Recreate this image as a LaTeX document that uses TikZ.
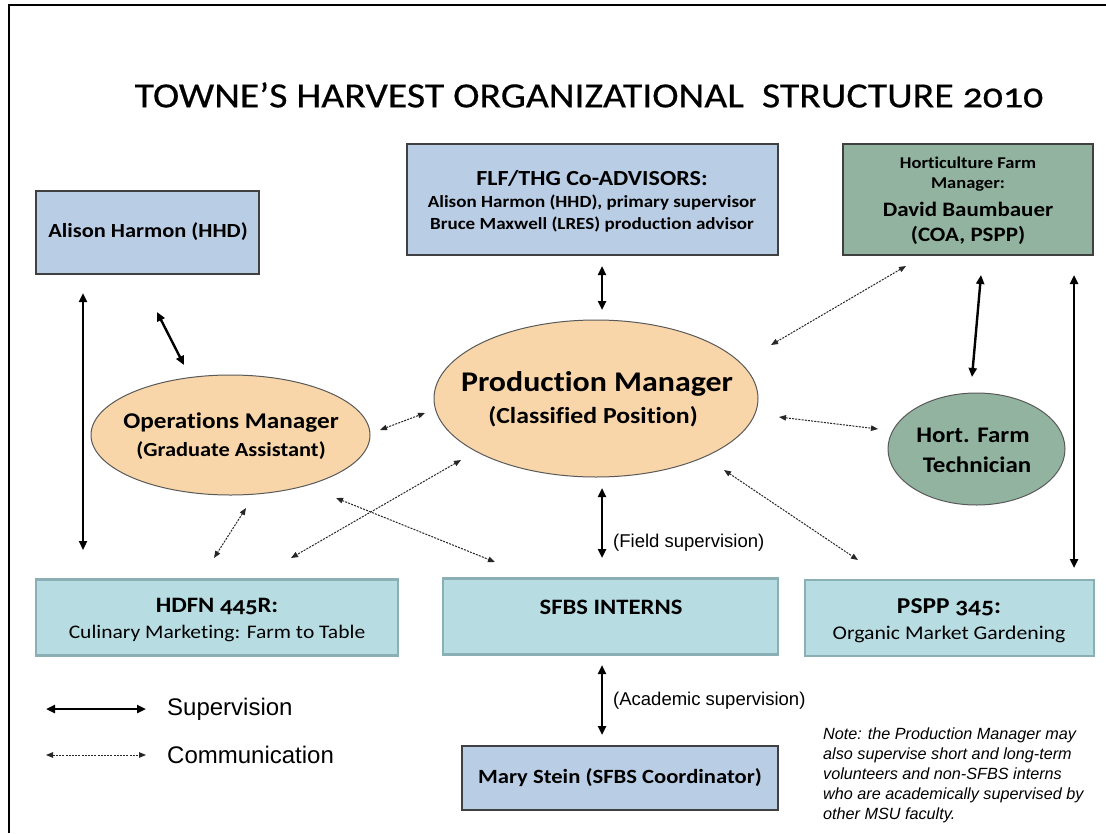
\documentclass[tikz,border=0pt]{standalone}
\usepackage{fontspec}
\setmainfont{Carlito}
\newfontfamily\cand[FakeStretch=1.12,Numbers=OldStyle,Ligatures=NoCommon]{Carlito}
\newfontfamily\candt[FakeStretch=1.12,FakeBold=0.5,Numbers=OldStyle,Ligatures=NoCommon]{Carlito}
\newfontfamily\arial{Liberation Sans}
\usetikzlibrary{arrows.meta,shapes.geometric}
\definecolor{bluebox}{HTML}{B9CDE5}
\definecolor{greenbox}{HTML}{91B3A0}
\definecolor{tanfill}{HTML}{F9D6A9}
\definecolor{tealbox}{HTML}{B7DDE3}
\definecolor{tealline}{HTML}{8AAFB4}
\newcommand{\setfs}[1]{\fontsize{#1}{#1}\selectfont}
\tikzset{
  bluebx/.style={draw=black!75, line width=1.2pt, fill=bluebox, inner sep=0pt},
  greenbx/.style={draw=black!75, line width=1.2pt, fill=greenbox, inner sep=0pt},
  tealbx/.style={draw=tealline, line width=2.5pt, fill=tealbox, inner sep=0pt},
  tanoval/.style={ellipse, draw=black!65, line width=1pt, fill=tanfill, inner sep=0pt},
  greenoval/.style={ellipse, draw=black!65, line width=1pt, fill=greenbox, inner sep=0pt},
  txt/.style={inner sep=0pt, align=center},
  sup/.style={line width=2.4pt, {Triangle[length=9pt,width=8pt]}-{Triangle[length=9pt,width=8pt]}},
  comm/.style={line width=1pt, draw=black!85, dash pattern=on 2pt off 1.2pt,
    {Triangle[length=7pt,width=5.5pt]}-{Triangle[length=7pt,width=5.5pt]}},
}
\begin{document}
\begin{tikzpicture}[x=1pt,y=-1pt]
\useasboundingbox (0,0) rectangle (1106,833);
\fill[white] (0,0) rectangle (1106,833);
% frame
\draw[line width=2pt] (8.5,833) -- (8.5,5) -- (1106,5);

% title
\node[txt, font=\candt\setfs{35.5}] (title) at (589,95) {TOWNE’S HARVEST ORGANIZATIONAL\ \ STRUCTURE 2010};

% boxes
\node[bluebx, minimum width=223pt, minimum height=83pt] (alison) at (147.5,232.5) {};
\node[txt, font=\cand\bfseries\setfs{20}] (alisont) at (148,232) {Alison Harmon (HHD)};

\node[bluebx, minimum width=371pt, minimum height=111pt] (flf) at (592.5,199.5) {};
\node[txt, font=\cand\bfseries\setfs{21.5}] (flft1) at (592,178) {FLF/THG Co-ADVISORS:};
\node[txt, font=\cand\bfseries\setfs{17}] (flft2) at (592,203) {Alison Harmon (HHD), primary supervisor};
\node[txt, font=\cand\bfseries\setfs{17}] (flft3) at (592,225) {Bruce Maxwell (LRES) production advisor};

\node[greenbx, minimum width=250pt, minimum height=111pt] (hort) at (968,199.5) {};
\node[txt, font=\cand\bfseries\setfs{16.5}] (hortt1) at (968,163) {Horticulture Farm};
\node[txt, font=\cand\bfseries\setfs{16.5}] (hortt2) at (968,185) {Manager:};
\node[txt, font=\cand\bfseries\setfs{20.5}] (hortt3) at (968,209) {David Baumbauer};
\node[txt, font=\cand\bfseries\setfs{20.5}] (hortt4) at (968,235) {(COA, PSPP)};

% ellipses
\node[tanoval, minimum width=279pt, minimum height=120pt] (ops) at (230.5,435) {};
\node[txt, font=\cand\bfseries\setfs{22.5}] (opst1) at (231,423) {Operations Manager};
\node[txt, font=\cand\bfseries\setfs{20}] (opst2) at (231,451) {(Graduate Assistant)};

\node[tanoval, minimum width=324pt, minimum height=157pt] (pm) at (596,398.5) {};
\node[txt, font=\cand\bfseries\setfs{28.5}] (pmt1) at (597,384) {Production Manager};
\node[txt, font=\cand\bfseries\setfs{23}] (pmt2) at (593,417) {(Classified Position)};

\node[greenoval, minimum width=177pt, minimum height=112pt] (tech) at (976.5,449) {};
\node[txt, font=\cand\bfseries\setfs{22.3}] (techt1) at (973,435) {Hort. Farm};
\node[txt, font=\cand\bfseries\setfs{22.3}] (techt2) at (977,465) {Technician};

% bottom row
\node[tealbx, minimum width=362pt, minimum height=76pt] (hdfn) at (217,617.5) {};
\node[txt, font=\cand\bfseries\setfs{22}] (hdfnt1) at (217,607) {HDFN 445R:};
\node[txt, font=\cand\setfs{19.2}] (hdfnt2) at (217,633) {Culinary Marketing: Farm to Table};

\node[tealbx, minimum width=335pt, minimum height=76pt] (sfbs) at (610.5,616.5) {};
\node[txt, font=\cand\bfseries\setfs{22}] (sfbst) at (611,607) {SFBS INTERNS};

\node[tealbx, minimum width=289pt, minimum height=76pt] (pspp) at (949.5,618) {};
\node[txt, font=\cand\bfseries\setfs{22.7}] (psppt1) at (949,607) {PSPP 345:};
\node[txt, font=\cand\setfs{19.4}] (psppt2) at (949,634) {Organic Market Gardening};

\node[bluebx, minimum width=316pt, minimum height=64pt] (mary) at (620,778) {};
\node[txt, font=\cand\bfseries\setfs{20.2}] (maryt) at (620,778) {Mary Stein (SFBS Coordinator)};

% connector end points
\coordinate (a1) at (157,312);  \coordinate (a2) at (184,365);
\coordinate (b1) at (83,293);   \coordinate (b2) at (83,550);
\coordinate (c1) at (602,266);  \coordinate (c2) at (602,310);
\coordinate (d1) at (981,275);  \coordinate (d2) at (972,377);
\coordinate (e1) at (1074,275); \coordinate (e2) at (1074,568);
\coordinate (f1) at (602,488);  \coordinate (f2) at (602,558);
\coordinate (g1) at (602,665);  \coordinate (g2) at (602,735);
\coordinate (h1) at (771,345);  \coordinate (h2) at (906,266);
\coordinate (i1) at (779,417);  \coordinate (i2) at (878,429);
\coordinate (j1) at (380,430);  \coordinate (j2) at (425,413);
\coordinate (k1) at (461,460);  \coordinate (k2) at (291,558);
\coordinate (l1) at (336,498);  \coordinate (l2) at (495,562);
\coordinate (m1) at (246,508);  \coordinate (m2) at (214,558);
\coordinate (n1) at (724,470);  \coordinate (n2) at (858,560);

\draw[sup] (a1) -- (a2);
\draw[sup] (b1) -- (b2);
\draw[sup] (c1) -- (c2);
\draw[sup] (d1) -- (d2);
\draw[sup] (e1) -- (e2);
\draw[sup] (f1) -- (f2);
\draw[sup] (g1) -- (g2);
\draw[comm] (h1) -- (h2);
\draw[comm] (i1) -- (i2);
\draw[comm] (j1) -- (j2);
\draw[comm] (k1) -- (k2);
\draw[comm] (l1) -- (l2);
\draw[comm] (m1) -- (m2);
\draw[comm] (n1) -- (n2);

\node[txt, anchor=west, font=\arial\setfs{18.5}] (fieldl) at (613,543) {(Field supervision)};
\node[txt, anchor=west, font=\arial\setfs{18.5}] (acadl) at (613,701) {(Academic supervision)};

% legend
\coordinate (s1) at (46,709);  \coordinate (s2) at (146,709);
\coordinate (t1) at (46,755);  \coordinate (t2) at (146,755);
\draw[sup] (s1) -- (s2);
\draw[comm] (t1) -- (t2);
\node[txt, anchor=west, font=\arial\setfs{24}] (supl) at (167,709) {Supervision};
\node[txt, anchor=west, font=\arial\setfs{24}] (coml) at (167,755) {Communication};

% note
\node[txt, anchor=west, align=left, font=\arial\itshape\fontsize{16.2}{20}\selectfont] (note) at (823,775)
  {Note: the Production Manager may\\also supervise short and long-term\\volunteers and non-SFBS interns\\who are academically supervised by\\other MSU faculty.};
\end{tikzpicture}
\end{document}
